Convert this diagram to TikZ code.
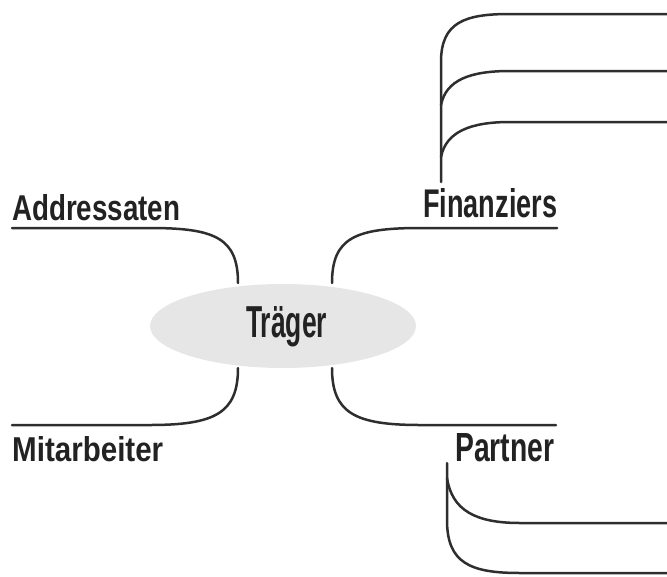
\documentclass[tikz,border=0pt]{standalone}
\usepackage{fontspec}
\setmainfont{Liberation Sans}
\usepackage{graphicx}
\definecolor{linec}{HTML}{2E2E2E}
\definecolor{textc}{HTML}{222222}
\definecolor{ellc}{HTML}{E6E6E6}
\tikzset{
  conn/.style={draw=linec, line width=2.5pt, line cap=round},
  lbl/.style={anchor=base west, inner sep=0pt, text=textc, font=\bfseries},
  center/.style={ellipse, fill=ellc, minimum width=266pt, minimum height=84pt, inner sep=0pt}
}
\usetikzlibrary{shapes.geometric}
\newcommand{\fitlbl}[3]{\resizebox{#1pt}{#2pt}{#3}}
\begin{document}
\begin{tikzpicture}[x=1pt,y=-1pt]
\useasboundingbox (0,0) rectangle (667,576);
% central node
\node[center] (tr) at (283,326) {};
\node[lbl] (trl) at (246,337) {\fitlbl{81}{31}{Träger}};
% labels
\node[lbl] (adr) at (12,220) {\fitlbl{168}{26}{Addressaten}};
\node[lbl] (mit) at (12,461) {\fitlbl{151}{25}{Mitarbeiter}};
\node[lbl] (fin) at (423,217) {\fitlbl{134}{29}{Finanziers}};
\node[lbl] (par) at (455,461) {\fitlbl{99}{28}{Partner}};
% connection coordinates
\coordinate (tl) at (238,283);
\coordinate (bl) at (238,368);
\coordinate (tr1) at (332,283);
\coordinate (br) at (332,368);
\coordinate (adrE) at (12,228);
\coordinate (mitE) at (12,425);
\coordinate (finE) at (557,228);
\coordinate (parE) at (556,425);
% main branches
\draw[conn] (tl) .. controls (238,238) and (215,228) .. (150,228) -- (adrE);
\draw[conn] (bl) .. controls (238,413) and (215,425) .. (150,425) -- (mitE);
\draw[conn] (tr1) .. controls (332,238) and (355,228) .. (420,228) -- (finE);
\draw[conn] (br) .. controls (332,413) and (355,425) .. (420,425) -- (parE);
% Finanziers subtree
\coordinate (fr) at (441,182);
\coordinate (f1) at (441,105);
\coordinate (f2) at (441,157);
\coordinate (fe0) at (667,14);
\coordinate (fe1) at (667,71);
\coordinate (fe2) at (667,122);
\draw[conn] (fr) -- (441,62) .. controls (441,22) and (465,14) .. (510,14) -- (fe0);
\draw[conn] (f1) .. controls (446,80) and (470,71) .. (510,71) -- (fe1);
\draw[conn] (f2) .. controls (446,132) and (470,122) .. (510,122) -- (fe2);
% Partner subtree
\coordinate (pr) at (447,463);
\coordinate (p1) at (447,478);
\coordinate (pe0) at (667,523);
\coordinate (pe1) at (667,573);
\draw[conn] (pr) -- (447,520) .. controls (447,563) and (470,573) .. (520,573) -- (pe1);
\draw[conn] (p1) .. controls (452,510) and (475,523) .. (520,523) -- (pe0);
\end{tikzpicture}
\end{document}
